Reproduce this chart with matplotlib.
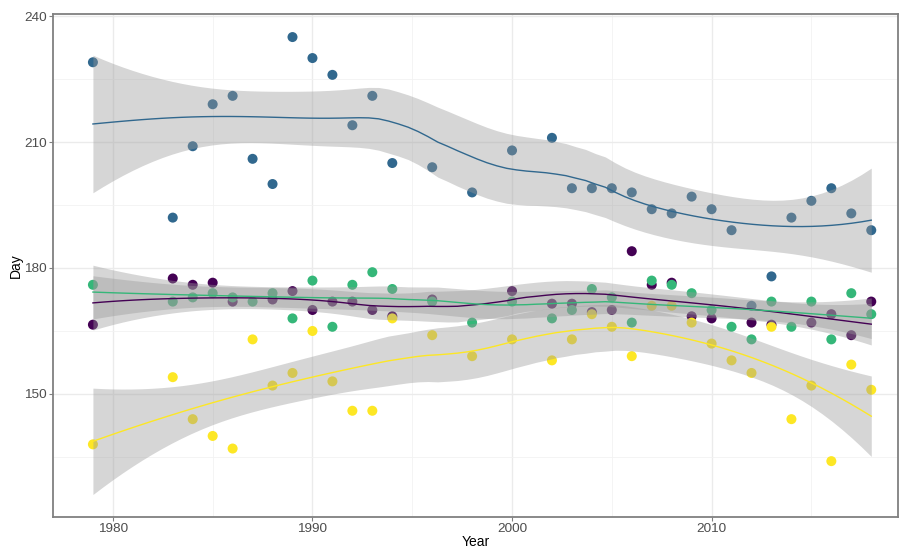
import numpy as np
import matplotlib.pyplot as plt

plt.rcParams['font.family'] = ['Liberation Sans', 'DejaVu Sans']

# Data
years_blue = [1979, 1983, 1984, 1985, 1986, 1987, 1988, 1989, 1990, 1991, 1992, 1993, 1994, 1996,
              1998, 2000, 2002, 2003, 2004, 2005, 2006, 2007, 2008, 2009, 2010, 2011, 2012, 2013,
              2014, 2015, 2016, 2017, 2018]
days_blue = [229, 192, 209, 219, 221, 206, 200, 235, 230, 226, 214, 221, 205, 204,
             198, 208, 211, 199, 199, 199, 198, 194, 193, 197, 194, 189, 171, 178,
             192, 196, 199, 193, 189]

years_purple = [1979, 1983, 1984, 1985, 1986, 1988, 1989, 1990, 1991, 1992, 1993, 1994, 1996,
                2000, 2002, 2003, 2004, 2005, 2006, 2007, 2008, 2009, 2010, 2012, 2013, 2015,
                2016, 2017, 2018]
days_purple = [166.5, 177.5, 176, 176.5, 172, 172.5, 174.5, 170, 172, 172, 170, 168.5, 172.5,
               174.5, 171.5, 171.5, 169.5, 170, 184, 176, 176.5, 168.5, 168, 167, 166.5, 167,
               169, 164, 172]

years_green = [1979, 1983, 1984, 1985, 1986, 1987, 1988, 1989, 1990, 1991, 1992, 1993, 1994, 1996,
               1998, 2000, 2002, 2003, 2004, 2005, 2006, 2007, 2008, 2009, 2010, 2011, 2012, 2013,
               2014, 2015, 2016, 2017, 2018]
days_green = [176, 172, 173, 174, 173, 172, 174, 168, 177, 166, 176, 179, 175, 172,
              167, 172, 168, 170, 175, 173, 167, 177, 176, 174, 170, 166, 163, 172,
              166, 172, 163, 174, 169]

years_yellow = [1979, 1983, 1984, 1985, 1986, 1987, 1988, 1989, 1990, 1991, 1992, 1993, 1994, 1996,
                1998, 2000, 2002, 2003, 2004, 2005, 2006, 2007, 2008, 2009, 2010, 2011, 2012, 2013,
                2014, 2015, 2016, 2017, 2018]
days_yellow = [138, 154, 144, 140, 137, 163, 152, 155, 165, 153, 146, 146, 168, 164,
               159, 163, 158, 163, 169, 166, 159, 171, 171, 167, 162, 158, 155, 166,
               144, 152, 134, 157, 151]

series = [
    (years_purple, days_purple, '#440154'),
    (years_blue, days_blue, '#31688E'),
    (years_green, days_green, '#35B779'),
    (years_yellow, days_yellow, '#FDE725'),
]


def loess_weights(x, x0, span):
    n = len(x)
    q = int(np.floor(n * span))
    d = np.abs(x - x0)
    dmax = np.sort(d)[q - 1]
    u = np.clip(d / dmax, 0, 1)
    return (1 - u ** 3) ** 3


def loess_row(x, x0, span):
    # row of the smoother matrix for a local quadratic fit at x0
    w = loess_weights(x, x0, span)
    X = np.column_stack([np.ones_like(x), x - x0, (x - x0) ** 2])
    W = np.diag(w)
    A = X.T @ W @ X
    return (np.linalg.pinv(A) @ X.T @ W)[0]


def t_quantile(df):
    z = 1.959964
    return z + (z ** 3 + z) / (4 * df) + (5 * z ** 5 + 16 * z ** 3 + 3 * z) / (96 * df ** 2)


# loess smooth with 95% band, like geom_smooth()
def loess_smooth(xs, ys, span=0.75, npts=80):
    x = np.asarray(xs, float)
    y = np.asarray(ys, float)
    n = len(x)
    L = np.array([loess_row(x, xi, span) for xi in x])
    R = np.eye(n) - L
    RR = R.T @ R
    delta1 = np.trace(RR)
    delta2 = np.trace(RR @ RR)
    sigma = np.sqrt(np.sum((R @ y) ** 2) / delta1)
    df = delta1 ** 2 / delta2
    grid = np.linspace(x.min(), x.max(), npts)
    fit, se = [], []
    for g in grid:
        l = loess_row(x, g, span)
        fit.append(l @ y)
        se.append(sigma * np.sqrt(np.sum(l ** 2)))
    fit = np.array(fit)
    se = np.array(se)
    t = t_quantile(df)
    return grid, fit, fit - t * se, fit + t * se


fig = plt.figure(figsize=(9, 5.48), dpi=100)
ax = fig.add_axes([0.0589, 0.0566, 0.9391, 0.9179])

for xs, ys, col in series:
    ax.scatter(xs, ys, s=52, color=col, edgecolors='none', zorder=2)

for xs, ys, col in series:
    gx, fit, lo, hi = loess_smooth(xs, ys)
    ax.fill_between(gx, lo, hi, color='#999999', alpha=0.4, linewidth=0, zorder=3)
    ax.plot(gx, fit, color=col, linewidth=1.0, zorder=4)

ax.set_xlim(1977.0, 2019.35)
ax.set_ylim(120.7, 240.5)
ax.set_xticks([1980, 1990, 2000, 2010])
ax.set_xticks([1985, 1995, 2005, 2015], minor=True)
ax.set_yticks([150, 180, 210, 240])
ax.set_yticks([135, 165, 195, 225], minor=True)

ax.grid(True, which='major', color='#EBEBEB', linewidth=1.0, zorder=0)
ax.grid(True, which='minor', color='#F2F2F2', linewidth=0.6, zorder=0)
ax.set_axisbelow(True)

for sp in ax.spines.values():
    sp.set_color('#808080')
    sp.set_linewidth(1.3)

ax.tick_params(which='major', length=3, color='#808080', labelcolor='#4D4D4D', labelsize=9.7, pad=1.5)
ax.tick_params(which='minor', length=0)

ax.set_xlabel('Year', fontsize=10, color='black', labelpad=0)
ax.set_ylabel('Day', fontsize=10, color='black', labelpad=1)

fig.savefig('out.png', dpi=100)
